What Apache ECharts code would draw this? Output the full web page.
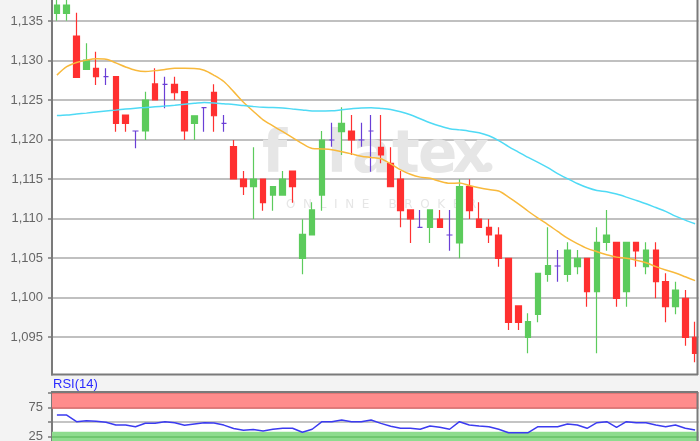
<!DOCTYPE html>
<html>
<head>
<meta charset="utf-8">
<script src="https://cdn.jsdelivr.net/npm/echarts@6/dist/echarts.min.js"></script>
<style>
html,body{margin:0;padding:0;background:#f4f4f4;}
#c{width:700px;height:441px;}
</style>
</head>
<body>
<div id="c"></div>
<script>
const categories = ['1','2','3','4','5','6','7','8','9','10','11','12','13','14','15','16','17','18','19','20','21','22','23','24','25','26','27','28','29','30','31','32','33','34','35','36','37','38','39','40','41','42','43','44','45','46','47','48','49','50','51','52','53','54','55','56','57','58','59','60','61','62','63','64','65','66'];

const openValues = [1.13597,1.13597,1.13310,1.12889,1.12901,1.12795,1.12795,1.12310,1.12108,1.12108,
1.12703,1.12699,1.12699,1.12605,1.12205,1.12403,1.12597,1.12205,1.11909,1.11500,
1.11403,1.11500,1.11297,1.11297,1.11601,1.10496,1.10791,1.11297,1.11994,1.12099,
1.12108,1.11994,1.12108,1.11901,1.11699,1.11500,1.11108,1.10889,1.10889,1.10994,
1.10791,1.10690,1.11403,1.10994,1.10889,1.10791,1.10496,1.09893,1.09496,1.09787,
1.10294,1.10399,1.10294,1.10390,1.10496,1.10074,1.10699,1.10699,1.10074,1.10699,
1.10390,1.10601,1.10200,1.09884,1.09990,1.09496];

const closeValues = [1.13703,1.13703,1.12787,1.13006,1.12795,1.12795,1.12205,1.12205,1.12108,1.12500,
1.12500,1.12699,1.12592,1.12108,1.12301,1.12403,1.12301,1.12205,1.11500,1.11403,
1.11500,1.11200,1.11403,1.11500,1.11403,1.10800,1.11108,1.11994,1.11994,1.12205,
1.11994,1.11994,1.12108,1.11804,1.11403,1.11099,1.10994,1.10889,1.11108,1.10889,
1.10791,1.11403,1.11099,1.10889,1.10791,1.10496,1.09686,1.09686,1.09694,1.10306,
1.10403,1.10399,1.10601,1.10496,1.10074,1.10699,1.10791,1.09990,1.10699,1.10589,
1.10601,1.10200,1.09884,1.10095,1.09496,1.09294];

const lowValues = [1.13504,1.13504,1.12787,1.12889,1.12690,1.12690,1.12099,1.12099,1.11889,1.11994,
1.12500,1.12395,1.12500,1.11994,1.11994,1.12099,1.12099,1.12099,1.11500,1.11297,
1.10994,1.11099,1.11099,1.11297,1.11200,1.10294,1.10791,1.11099,1.11909,1.11804,
1.11804,1.11909,1.11592,1.11699,1.11403,1.10889,1.10690,1.10889,1.10690,1.10889,
1.10592,1.10496,1.10994,1.10889,1.10690,1.10390,1.09589,1.09589,1.09294,1.09686,
1.10200,1.10200,1.10200,1.10294,1.09884,1.09294,1.10592,1.09884,1.09884,1.10390,
1.10294,1.09990,1.09686,1.09787,1.09390,1.09180];

const highValues = [1.13820,1.13820,1.13605,1.13218,1.13111,1.12901,1.12795,1.12310,1.12108,1.12605,
1.12901,1.12795,1.12795,1.12605,1.12301,1.12403,1.12699,1.12310,1.11994,1.11601,
1.11901,1.11500,1.11403,1.11601,1.11601,1.10990,1.11205,1.12108,1.12212,1.12408,
1.12310,1.12212,1.12310,1.12310,1.11901,1.11601,1.11108,1.11108,1.11108,1.11108,
1.11108,1.11496,1.11496,1.11205,1.10994,1.10889,1.10496,1.09893,1.09800,1.10306,
1.10889,1.10601,1.10699,1.10601,1.10496,1.10889,1.11108,1.10699,1.10699,1.10699,
1.10699,1.10699,1.10306,1.10200,1.10095,1.09694];

const maShort = [1.12815,1.12922,1.12975,1.13005,1.13022,1.13016,1.12970,1.12918,1.12876,1.12861,
1.12872,1.12887,1.12901,1.12901,1.12899,1.12876,1.12813,1.12734,1.12606,1.12471,
1.12358,1.12249,1.12173,1.12099,1.12025,1.11948,1.11887,1.11881,1.11871,1.11846,
1.11818,1.11789,1.11773,1.11756,1.11692,1.11615,1.11560,1.11524,1.11509,1.11471,
1.11446,1.11449,1.11417,1.11389,1.11366,1.11348,1.11271,1.11186,1.11092,1.11005,
1.10923,1.10837,1.10751,1.10682,1.10622,1.10580,1.10542,1.10511,1.10496,1.10472,
1.10439,1.10391,1.10348,1.10310,1.10262,1.10213];

const maLong = [1.12303,1.12310,1.12323,1.12334,1.12347,1.12360,1.12372,1.12385,1.12396,1.12405,
1.12414,1.12423,1.12434,1.12447,1.12458,1.12468,1.12463,1.12452,1.12443,1.12430,
1.12418,1.12408,1.12405,1.12399,1.12387,1.12375,1.12362,1.12361,1.12363,1.12376,
1.12389,1.12400,1.12403,1.12394,1.12380,1.12351,1.12313,1.12263,1.12213,1.12171,
1.12137,1.12122,1.12106,1.12086,1.12048,1.11987,1.11910,1.11841,1.11773,1.11711,
1.11643,1.11568,1.11504,1.11443,1.11392,1.11354,1.11339,1.11309,1.11271,1.11230,
1.11187,1.11139,1.11091,1.11030,1.10979,1.10934];

const rsiValues = [62.4,62.4,50.9,52.6,51.5,49.8,45.2,45.2,42.2,48.1,
48.1,50.9,49.1,44.7,46.9,49.1,48.5,45.0,39.0,36.0,
37.5,35.0,37.8,39.5,39.5,32.6,37.8,50.9,50.9,53.8,
50.9,50.9,53.8,48.0,43.0,39.5,39.5,37.8,43.4,41.2,
37.8,50.9,45.2,43.5,42.0,37.8,31.9,31.9,31.9,42.2,
42.2,42.2,46.9,45.2,39.5,49.1,50.9,41.2,50.9,49.1,
49.1,45.2,42.2,45.2,39.5,36.6];

const priceTicks = [1.095,1.100,1.105,1.110,1.115,1.120,1.125,1.130,1.135];
const rsiTicks = [25,75];
const rsiTitle = 'RSI(14)';

const candleData = categories.map((c, i) => [openValues[i], closeValues[i], lowValues[i], highValues[i]]);

const chart = echarts.init(document.getElementById('c'), null, {renderer: 'canvas'});
const FONT = '"Liberation Sans", Arial, sans-serif';
const fmt = v => v.toFixed(3).replace('.', ',');
const isPriceTick = v => priceTicks.some(t => Math.abs(t - v) < 1e-7);

const wmColor = '#e6e6e6';
const wmLetters = [
  {t:'f', x:262}, {t:'l', x:327}, {t:'a', x:352}, {t:'t', x:392}, {t:'e', x:418}, {t:'x', x:452}
];

const graphics = [];
wmLetters.forEach(l => {
  graphics.push({type:'text', left:l.x, top:128, z:1, silent:true,
    style:{text:l.t, fill:wmColor, font:'bold 58px "DejaVu Sans", sans-serif'}});
});
graphics.push({type:'circle', shape:{cx:488, cy:167, r:4.5}, z:1, silent:true, style:{fill:wmColor}});
graphics.push({type:'text', left:286, top:199, z:1, silent:true,
  style:{text:'O  N  L  I  N  E     B  R  O  K  E  R', fill:wmColor, font:'12px "DejaVu Sans", sans-serif'}});
// separator band between panels
graphics.push({type:'rect', shape:{x:0, y:375.5, width:700, height:16}, z:100, silent:true, style:{fill:'#f3f3f3'}});
graphics.push({type:'line', shape:{x1:51, y1:374.5, x2:698, y2:374.5}, z:101, silent:true, style:{stroke:'#7a7a7a', lineWidth:2}});
graphics.push({type:'line', shape:{x1:51, y1:392, x2:698, y2:392}, z:101, silent:true, style:{stroke:'#7a7a7a', lineWidth:2}});
graphics.push({type:'line', shape:{x1:697.5, y1:0, x2:697.5, y2:375}, z:101, silent:true, style:{stroke:'#7a7a7a', lineWidth:2}});
graphics.push({type:'line', shape:{x1:697.5, y1:392, x2:697.5, y2:441}, z:101, silent:true, style:{stroke:'#7a7a7a', lineWidth:2}});
graphics.push({type:'rect', shape:{x:698.5, y:0, width:2, height:441}, z:100, silent:true, style:{fill:'#f3f3f3'}});
graphics.push({type:'text', left:53, top:378, z:102, silent:true,
  style:{text:rsiTitle, fill:'#2b2bff', font:'13px ' + FONT}});

const option = {
  backgroundColor: '#f3f3f3',
  animation: false,
  grid: [
    {left:52, width:648, top:0, height:375, show:true, backgroundColor:'#ffffff', borderWidth:0,
     outerBoundsMode:'none', containLabel:false},
    {left:52, width:648, top:393.2, height:58, show:true, backgroundColor:'#ffffff', borderWidth:0,
     outerBoundsMode:'none', containLabel:false}
  ],
  xAxis: [
    {type:'category', gridIndex:0, data:categories, boundaryGap:true,
     axisLine:{show:false}, axisTick:{show:false}, axisLabel:{show:false}, splitLine:{show:false}},
    {type:'category', gridIndex:1, data:categories, boundaryGap:true,
     axisLine:{show:false}, axisTick:{show:false}, axisLabel:{show:false}, splitLine:{show:false}}
  ],
  yAxis: [
    {type:'value', gridIndex:0, min:1.09019, max:1.13766, splitNumber:10,
     axisLine:{show:true, lineStyle:{color:'#7a7a7a', width:2}},
     axisTick:{show:true, length:4, lineStyle:{color:'#7a7a7a', width:1.5}},
     axisLabel:{color:'#666', fontSize:13, fontFamily:FONT, margin:9, showMinLabel:false, showMaxLabel:false,
       formatter: v => (isPriceTick(v) ? fmt(v) : '')},
     splitLine:{show:true, showMinLine:false, showMaxLine:false, lineStyle:{color:'#ababab', width:1.5}}},
    {type:'value', gridIndex:1, min:0, max:100, interval:25,
     axisLine:{show:true, lineStyle:{color:'#7a7a7a', width:2}},
     axisTick:{show:true, length:4, lineStyle:{color:'#7a7a7a', width:1.5}},
     axisLabel:{color:'#666', fontSize:13, fontFamily:FONT, margin:9,
       formatter: v => (rsiTicks.indexOf(v) >= 0 ? String(v) : '')},
     splitLine:{show:true, lineStyle:{color:'#b0b0b0', width:1.5}}}
  ],
  graphic: graphics,
  series: [
    {type:'candlestick', xAxisIndex:0, yAxisIndex:0, data:candleData, barWidth:6, z:3,
     itemStyle:{color:'#5ccb5c', color0:'#ff3030', borderColor:'#5ccb5c', borderColor0:'#ff3030',
       borderColorDoji:'#6a3fd6', borderWidth:1.2}},
    {type:'line', xAxisIndex:0, yAxisIndex:0, data:maShort, showSymbol:false, smooth:0.3, z:4,
     lineStyle:{color:'#f8b93c', width:1.5}},
    {type:'line', xAxisIndex:0, yAxisIndex:0, data:maLong, showSymbol:false, smooth:0.3, z:4,
     lineStyle:{color:'#4fdaf5', width:1.5}},
    {type:'line', xAxisIndex:1, yAxisIndex:1, data:rsiValues, showSymbol:false, z:4,
     lineStyle:{color:'#3b3bf0', width:1.5},
     markArea:{silent:true, itemStyle:{opacity:1},
       data:[
         [{yAxis:75, itemStyle:{color:'#ff8c8c'}}, {yAxis:100}],
         [{yAxis:0, itemStyle:{color:'#8edc8e'}}, {yAxis:33.5}]
       ]},
     markLine:{silent:true, symbol:'none', label:{show:false},
       data:[
         {yAxis:75, lineStyle:{color:'#e06a6a', width:1.5, type:'solid'}},
         {yAxis:100, lineStyle:{color:'#e06a6a', width:1.5, type:'solid'}},
         {yAxis:25, lineStyle:{color:'#66c066', width:1.5, type:'solid'}}
       ]}}
  ]
};
chart.setOption(option);
</script>
</body>
</html>
